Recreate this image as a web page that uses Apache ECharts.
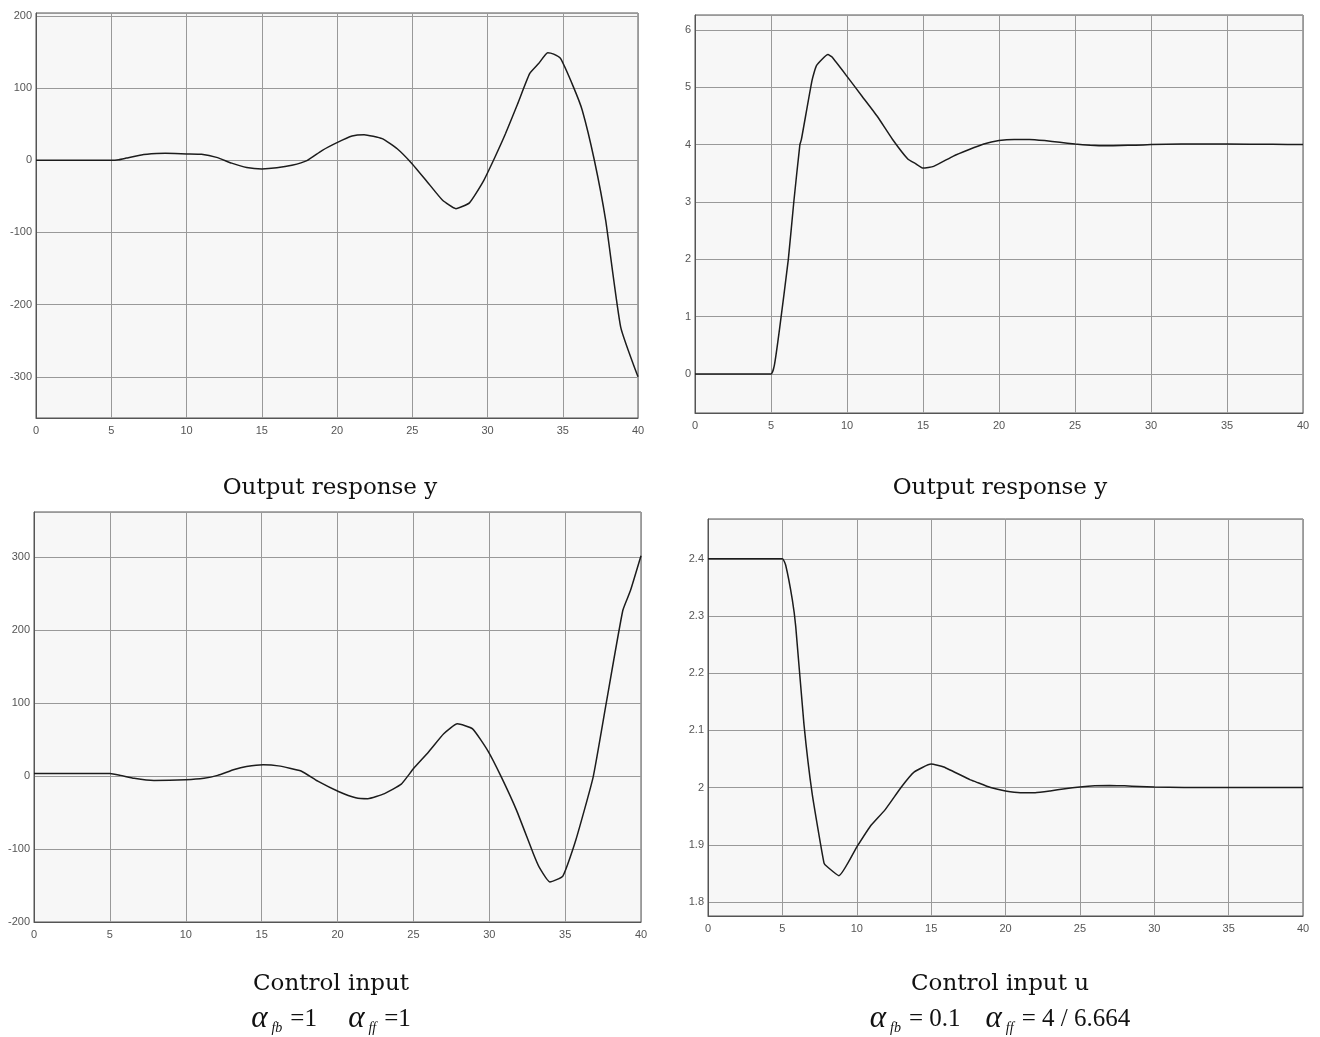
<!DOCTYPE html>
<html>
<head>
<meta charset="utf-8">
<title>Responses</title>
<script src="https://cdn.jsdelivr.net/npm/echarts@6/dist/echarts.min.js"></script>
<style>
  html, body { margin: 0; padding: 0; background: #fff; }
  #chart { width: 1320px; height: 1037px; }
</style>
</head>
<body>
<div id="chart"></div>
<script>
// top-left: output y, alpha_fb = 1
const y1Time = [0, 5, 5.5, 6, 7, 8, 8.6, 10, 11, 12, 13, 14, 15, 16, 17, 18, 19, 20, 21, 21.8, 23, 24, 25, 26, 27, 27.9, 28.8, 29.7, 30.5, 31.2, 32, 32.8, 33.4, 34, 34.4, 34.85, 35.7, 36.3, 37.1, 37.85, 38.85, 40];
const y1Value = [0, 0, 0.8, 3, 7.4, 9.3, 9.7, 8.8, 8.3, 4, -4, -10, -12, -10.5, -7, -0.5, 13.5, 24.5, 33.6, 35.5, 30, 16, -5, -30, -55, -67, -59, -30, 4.6, 37, 78, 120, 134, 149, 147, 141, 102, 69, 0, -83, -231, -300];

// top-right: output y, alpha_fb = 0.1
const y2Time = [0, 5, 5.22, 5.55, 6.14, 6.5, 6.9, 7, 7.7, 8, 8.75, 9, 10, 11, 12, 13, 14, 14.5, 15, 15.7, 17, 18, 19, 20, 21, 22, 23, 24, 25, 26, 27, 28, 29, 30, 32, 35, 38, 40];
const y2Value = [0, 0, 0.15, 0.76, 2.0, 3.0, 4.0, 4.09, 5.12, 5.38, 5.57, 5.53, 5.19, 4.84, 4.49, 4.09, 3.75, 3.67, 3.59, 3.62, 3.8, 3.91, 4.01, 4.07, 4.09, 4.09, 4.07, 4.04, 4.01, 3.99, 3.98, 3.985, 3.99, 4.0, 4.01, 4.01, 4.005, 4.0];

// bottom-left: control input, alpha_fb = 1
const u1Time = [0, 5, 5.7, 6.6, 7.9, 10, 11.2, 12.1, 13.2, 14, 15.1, 16.1, 17.6, 18.7, 20.1, 21.2, 22, 23.1, 24.2, 25, 26, 27, 27.9, 28.9, 29.9, 30.8, 31.8, 32.9, 33.3, 34, 34.85, 35.7, 36.85, 37.7, 38.8, 39.3, 40];
const u1Value = [3.5, 3.5, 1, -3, -6, -5, -3, 1, 9, 13, 15.5, 14, 7, -7, -21.5, -29.7, -31, -24, -11, 10, 33, 58, 71.7, 64.8, 35, -1.4, -47, -106, -125, -145, -137, -88, -1, 99, 227, 254, 302];

// bottom-right: control input u, alpha_fb = 0.1
const u2Time = [0, 5, 5.22, 5.67, 5.9, 6.45, 7, 7.8, 8, 8.8, 10, 10.9, 11.9, 13, 13.85, 15, 15.85, 17.6, 18, 19, 20, 21, 22, 23, 24, 25, 26, 27, 28, 29, 30, 32, 40];
const u2Value = [2.4, 2.4, 2.389, 2.328, 2.281, 2.111, 1.99, 1.868, 1.862, 1.846, 1.896, 1.932, 1.961, 2.001, 2.027, 2.041, 2.036, 2.014, 2.01, 2.0, 1.994, 1.991, 1.991, 1.994, 1.998, 2.001, 2.003, 2.0035, 2.003, 2.002, 2.001, 2.0, 2.0];

const yLimits = [[-357, 204], [-0.68, 6.26], [-200, 362], [1.7755, 2.4695]];

const grids = [
  { left: 36, top: 13, width: 602, height: 405 },
  { left: 695, top: 15, width: 608, height: 398 },
  { left: 34, top: 512, width: 607, height: 410 },
  { left: 708, top: 519, width: 595, height: 397 }
];

const zip = (t, v) => t.map((x, i) => [x, v[i]]);
const panels = [zip(y1Time, y1Value), zip(y2Time, y2Value), zip(u1Time, u1Value), zip(u2Time, u2Value)];

const labelStyle = { color: '#555', fontSize: 11, fontFamily: 'Liberation Sans, Arial, sans-serif' };
const gridLine = { show: true, lineStyle: { color: '#999', width: 1 } };

function caption(x, y, text) {
  return {
    type: 'text',
    x: x,
    y: y,
    style: {
      text: text,
      align: 'center',
      verticalAlign: 'middle',
      fill: '#111',
      font: '23px "DejaVu Serif", serif'
    }
  };
}

// alpha_fb / alpha_ff line under the lower captions
function alphaLine(x, y, fb, ff) {
  return {
    type: 'text',
    x: x,
    y: y,
    style: {
      text: '{a|α}{s|fb}{n|' + fb + '}{a|α}{s|ff}{n|' + ff + '}',
      align: 'center',
      verticalAlign: 'middle',
      fill: '#111',
      rich: {
        a: { fontSize: 31, fontStyle: 'italic', fontFamily: 'Liberation Serif', lineHeight: 32, verticalAlign: 'middle', padding: [0, 4, 0, 0] },
        s: { fontSize: 14, fontStyle: 'italic', fontFamily: 'Liberation Serif', lineHeight: 32, verticalAlign: 'bottom', padding: [0, 8, 0, 0] },
        n: { fontSize: 25, fontFamily: 'Liberation Serif', lineHeight: 32, verticalAlign: 'middle' }
      }
    }
  };
}

const chart = echarts.init(document.getElementById('chart'));

chart.setOption({
  backgroundColor: '#fff',
  animation: false,
  grid: grids.map(g => Object.assign({
    show: true,
    backgroundColor: '#f7f7f7',
    borderColor: '#555',
    borderWidth: 1,
    containLabel: false
  }, g)),
  xAxis: grids.map((g, i) => ({
    type: 'value',
    gridIndex: i,
    min: 0,
    max: 40,
    interval: 5,
    axisLine: { show: true, onZero: false, lineStyle: { color: '#555' } },
    axisTick: { show: false },
    axisLabel: Object.assign({ margin: 7 }, labelStyle),
    splitLine: gridLine
  })),
  yAxis: grids.map((g, i) => ({
    type: 'value',
    gridIndex: i,
    min: yLimits[i][0],
    max: yLimits[i][1],
    splitNumber: 5,
    axisLine: { show: true, onZero: false, lineStyle: { color: '#555' } },
    axisTick: { show: false },
    axisLabel: Object.assign({
      margin: 4,
      showMinLabel: i === 2,
      showMaxLabel: false
    }, labelStyle),
    splitLine: gridLine
  })),
  series: panels.map((d, i) => ({
    type: 'line',
    xAxisIndex: i,
    yAxisIndex: i,
    data: d,
    showSymbol: false,
    smooth: 0.15,
    lineStyle: { color: '#1c1c1c', width: 1.5 }
  })),
  graphic: [
    caption(330, 488, 'Output response y'),
    caption(1000, 488, 'Output response y'),
    caption(331, 984, 'Control input'),
    caption(1000, 984, 'Control input u'),
    alphaLine(331, 1019, '=1     ', '=1'),
    alphaLine(1000, 1019, '= 0.1    ', '= 4 / 6.664')
  ]
});
</script>
</body>
</html>
